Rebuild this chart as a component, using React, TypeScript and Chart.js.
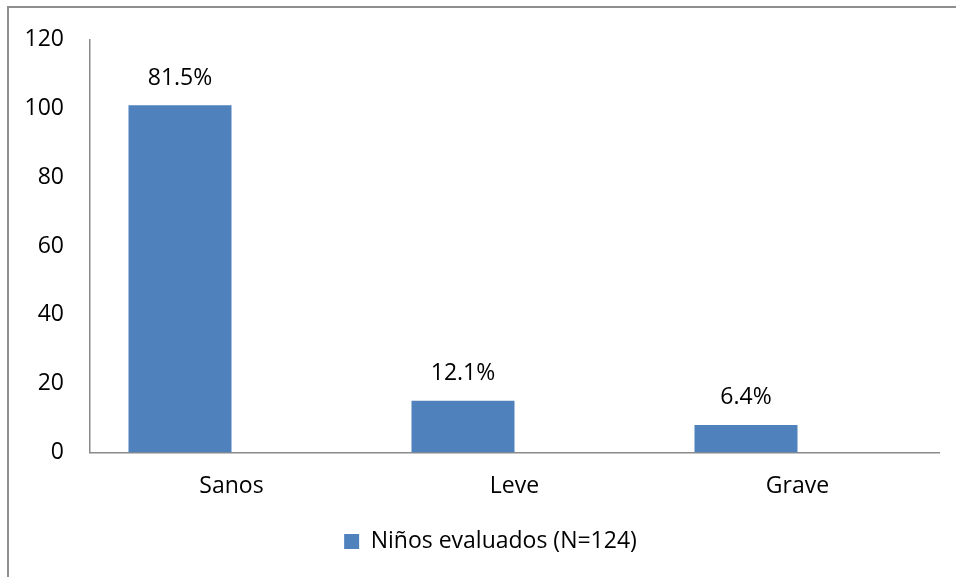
import React, { useEffect, useRef } from "react";
import { Chart, registerables } from "chart.js";

Chart.register(...registerables);

const categories = ["Sanos", "Leve", "Grave"];
const counts = [101, 15, 8];
const pctLabels = ["81.5%", "12.1%", "6.4%"];
const seriesName = "Niños evaluados (N=124)";
const yTicks = [0, 20, 40, 60, 80, 100, 120];

const FONT = "'Open Sans', sans-serif";

const framePlugin = {
  id: "frame",
  afterLayout(chart: any) {
    const lg = chart.legend;
    if (lg) {
      lg.left += 21;
      lg.right += 21;
    }
  },
  beforeDraw(chart: any) {
    const ctx = chart.ctx;
    ctx.save();
    ctx.fillStyle = "#ffffff";
    ctx.fillRect(0, 0, chart.width, chart.height);
    ctx.strokeStyle = "#8e8e8e";
    ctx.lineWidth = 2;
    ctx.beginPath();
    ctx.moveTo(8, chart.height);
    ctx.lineTo(8, 7);
    ctx.lineTo(chart.width, 7);
    ctx.stroke();
    ctx.restore();
  },
};

const labelPlugin = {
  id: "barLabels",
  afterDatasetsDraw(chart: any) {
    const ctx = chart.ctx;
    const meta = chart.getDatasetMeta(0);
    ctx.save();
    ctx.font = `23px ${FONT}`;
    ctx.fillStyle = "#000000";
    ctx.textAlign = "center";
    ctx.textBaseline = "middle";
    meta.data.forEach((bar: any, i: number) => {
      ctx.fillText(pctLabels[i], bar.x, bar.y - 27);
    });
    ctx.restore();
  },
};

export default function App() {
  const ref = useRef<HTMLCanvasElement | null>(null);
  useEffect(() => {
    if (!ref.current) return;
    const chart = new Chart(ref.current, {
      type: "bar",
      data: {
        labels: categories,
        datasets: [
          {
            label: seriesName,
            data: counts,
            backgroundColor: "#4F81BD",
            borderWidth: 0,
          },
          {
            label: "",
            data: categories.map(() => null),
            backgroundColor: "rgba(0,0,0,0)",
          },
        ],
      },
      options: {
        animation: false,
        responsive: false,
        maintainAspectRatio: false,
        datasets: { bar: { categoryPercentage: 0.728, barPercentage: 1 } },
        layout: { padding: { top: 36, right: 17, left: 0, bottom: 14 } },
        scales: {
          x: {
            grid: { display: false, drawTicks: false },
            border: { display: true, color: "#8a8a8a", width: 1.5 },
            ticks: { font: { family: FONT, size: 23 }, color: "#000", padding: 20 },
          },
          y: {
            min: 0,
            max: 120,
            afterFit(scale: any) {
              scale.width = 90;
            },
            afterBuildTicks(scale: any) {
              scale.ticks = yTicks.map((v) => ({ value: v }));
            },
            grid: { display: false, drawTicks: false },
            border: { display: true, color: "#8a8a8a", width: 1.5 },
            ticks: { font: { family: FONT, size: 23 }, color: "#000", padding: 26 },
          },
        },
        plugins: {
          legend: {
            position: "bottom",
            labels: {
              font: { family: FONT, size: 23 },
              color: "#000",
              boxWidth: 15,
              boxHeight: 15,
              padding: 10,
              filter: (item: any) => item.datasetIndex === 0,
            },
          },
          tooltip: { enabled: false },
        },
      },
      plugins: [framePlugin, labelPlugin],
    });
    return () => chart.destroy();
  }, []);
  return (
    <div style={{ position: "fixed", left: 0, top: 0, width: 956, height: 577 }}>
      <canvas ref={ref} width={956} height={577} style={{ width: 956, height: 577, display: "block" }} />
    </div>
  );
}
